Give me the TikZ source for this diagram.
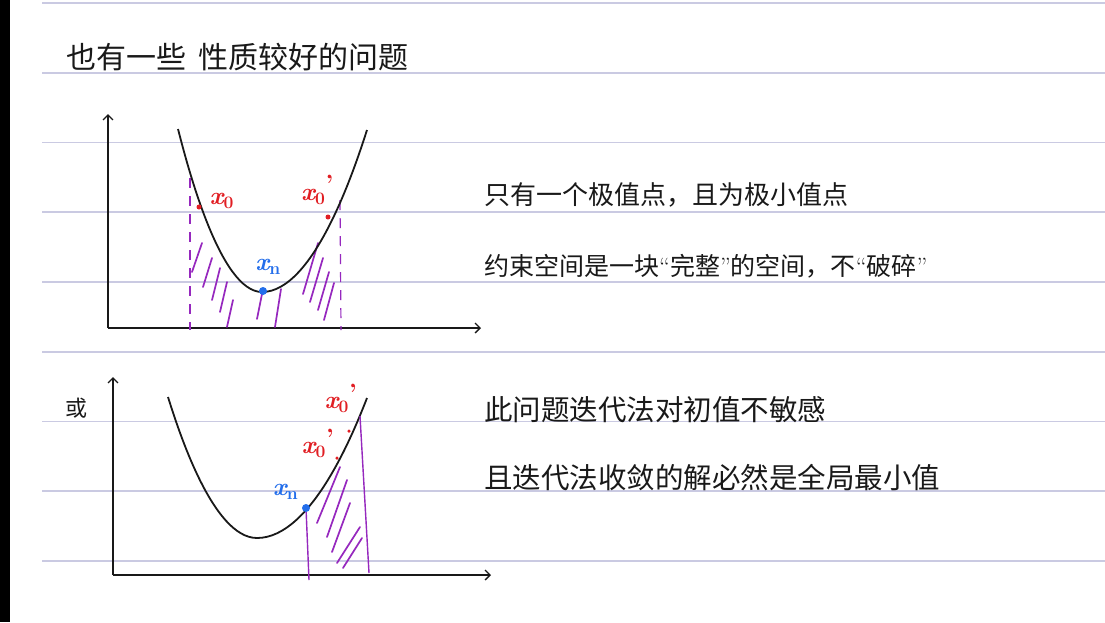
\documentclass[tikz,border=0pt]{standalone}
\usepackage{fontspec}
\newfontfamily\cjk{Noto Sans CJK SC}
\usetikzlibrary{positioning,arrows.meta,calc}
\definecolor{ruleLine}{RGB}{202,202,226}
\definecolor{inkBlack}{RGB}{25,25,25}
\definecolor{inkRed}{RGB}{225,30,35}
\definecolor{inkBlue}{RGB}{35,110,235}
\definecolor{inkPurple}{RGB}{150,40,190}
\newcommand{\xsub}[1]{{\itshape x}\textsubscript{#1}}
\newcommand{\xprime}{{\itshape x}\textsubscript{0}\raisebox{0.3em}{'}}
\tikzset{
    ruled/.style={draw=ruleLine, line width=1.6pt},
    axis/.style={draw=inkBlack, line width=1.3pt, -{Straight Barb[length=5pt,width=10pt]}},
    curve/.style={draw=inkBlack, line width=1.8pt},
    guide/.style={draw=inkPurple, line width=1.2pt, dash pattern=on 10pt off 8pt},
    edge/.style={draw=inkPurple, line width=1.4pt},
    hatch/.style={draw=inkPurple, line width=1.7pt, line cap=round},
    note/.style={font=\cjk\fontsize{25}{30}\selectfont, text=inkBlack, anchor=west, inner sep=0pt},
    wide note/.style={note, font=\cjk\fontsize{28.5}{32}\selectfont},
    tag/.style={font=\fontsize{25}{28}\selectfont\bfseries, inner sep=0.5pt},
    redpt/.style={circle, fill=inkRed, inner sep=0pt, minimum size=5pt},
    bluept/.style={circle, fill=inkBlue, inner sep=0pt, minimum size=8pt}
}

\begin{document}
\begin{tikzpicture}[x=1pt, y=-1pt]
  % Page
  \useasboundingbox[fill=white] (0,0) rectangle (1105,622);
  \fill[black] (0,0) rectangle (10,622);
  \foreach \i in {0,...,8}
    \draw[ruled] (42,3+69.75*\i) -- (1105,3+69.75*\i);

  % Texts
  \node[wide note, font=\cjk\fontsize{30}{34}\selectfont] (title) at (66,57) {也有一些\hspace{0.4em}性质较好的问题};
  \node[note, font=\cjk\fontsize{26}{30}\selectfont] (line1) at (484,195) {只有一个极值点，且为极小值点};
  \node[note] (line2) at (484,266) {约束空间是一块{\rmfamily “}完整{\rmfamily ”}的空间，不{\rmfamily “}破碎{\rmfamily ”}};
  \node[wide note] (line3) at (484,410) {此问题迭代法对初值不敏感};
  \node[wide note] (line4) at (484,478) {且迭代法收敛的解必然是全局最小值};
  \node[note, font=\cjk\fontsize{22}{24}\selectfont, anchor=center] (orword) at (76,408) {或};

  % Upper plot
  \coordinate (o1) at (108,328);
  \coordinate (y1) at (108,114);
  \coordinate (x1) at (481,328);
  \draw[axis] (o1) -- (y1);
  \draw[axis] (o1) -- (x1);
  \foreach \a/\b/\c/\d in {192/272/202/243, 203/287/212/258, 212/300/220/268, 220/312/227/282,
      227/327/233/300, 257/319/262/294, 275/327/281/289,
      303/294/318/243, 310/302/323/258, 318/310/329/272, 324/320/334/283}
    \draw[hatch] (\a,\b) -- (\c,\d);
  \draw[guide] (190,178) -- (190,330);
  \draw[guide] (340,200) -- (341,330);
  \draw[curve] (178,129) parabola bend (262,292) (367,130);
  \node[redpt] (x0dot) at (199,207) {};
  \node[redpt] (x0pdot) at (328,217) {};
  \node[bluept] (xndot) at (263,291) {};
  \node[tag, text=inkRed, above right=-4pt and 8pt of x0dot] (x0lbl) {\xsub{0}};
  \node[tag, text=inkRed, above left=10pt and -8pt of x0pdot] (x0plbl) {\xprime};
  \node[tag, text=inkBlue, above=12pt of xndot, xshift=5pt] (xnlbl) {\xsub{n}};

  % Lower plot
  \coordinate (o2) at (113,575);
  \coordinate (y2) at (113,377);
  \coordinate (x2) at (491,575);
  \draw[axis] (o2) -- (y2);
  \draw[axis] (o2) -- (x2);
  \foreach \a/\b/\c/\d in {317/523/340/467, 327/537/347/480, 332/552/350/503,
      337/563/360/527, 343/568/362/538}
    \draw[hatch] (\a,\b) -- (\c,\d);
  \draw[curve] (168,397) parabola bend (257,538) (367,398);
  \node[bluept] (xn2dot) at (306,508) {};
  \node[redpt, minimum size=3.5pt] (lowdot) at (337,458) {};
  \node[redpt, minimum size=3.5pt] (highdot) at (349,431) {};
  \draw[edge] (xn2dot) -- (309,580);
  \draw[edge] (360,416) -- (369,573);
  \node[tag, text=inkBlue, above left=5pt and 4pt of xn2dot] (xn2lbl) {\xsub{n}};
  \node[tag, text=inkRed, above left=-2pt and 1pt of lowdot] (lowlbl) {\xprime};
  \node[tag, text=inkRed, above left=16pt and -10pt of highdot] (highlbl) {\xprime};
\end{tikzpicture}
\end{document}
